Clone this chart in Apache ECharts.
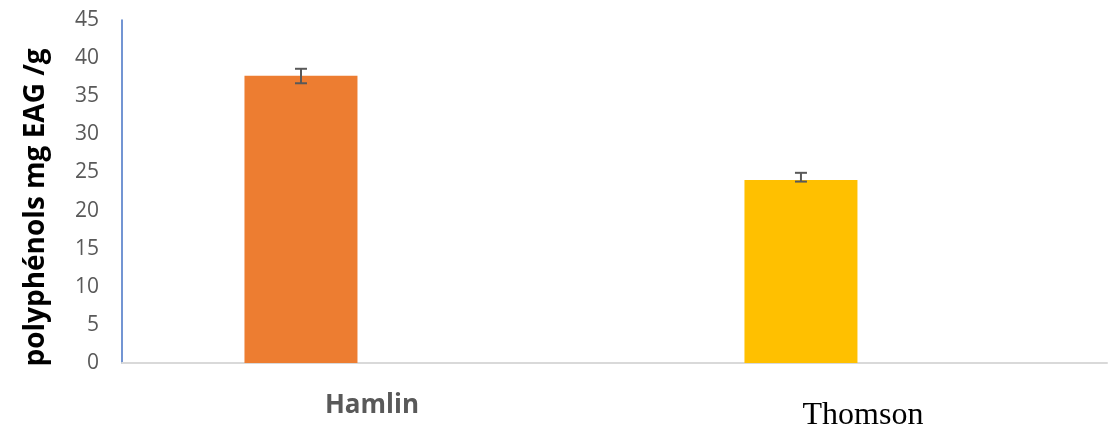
<!DOCTYPE html>
<html><head><meta charset="utf-8">
<script src="https://cdn.jsdelivr.net/npm/echarts@6/dist/echarts.min.js"></script>
<style>html,body{margin:0;padding:0;background:#fff}#c{width:1108px;height:425px}</style>
</head><body><div id="c"></div>
<script>
// ---- data ----
const categories = ['Hamlin', 'Thomson'];
const values = [37.7, 24.0];
const errLow = [36.7, 23.8];
const errHigh = [38.6, 24.95];
const yTickMin = 0, yTickMax = 45, yTickStep = 5;
const yTitle = 'polyphénols mg EAG /g';

// ---- layout (fractions of plot width) ----
const barPos = [0.1817, 0.6893];
const labelPos = [0.2538, 0.7523];
const barColors = ['#ED7D31', '#FFC000'];

const chart = echarts.init(document.getElementById('c'), null, {renderer: 'canvas'});
const option = {
  animation: false,
  grid: {left: 122, right: 1, top: 20, bottom: 62, containLabel: false, outerBoundsMode: 'none'},
  xAxis: {
    type: 'value', min: 0, max: 1,
    splitLine: {show: false},
    axisTick: {show: false},
    axisLine: {show: true, lineStyle: {color: '#D9D9D9', width: 2}},
    axisLabel: {
      customValues: labelPos,
      margin: 28,
      formatter: function (v) {
        let idx = 0, best = Infinity;
        labelPos.forEach((p, i) => { const d = Math.abs(p - v); if (d < best) { best = d; idx = i; } });
        return '{c' + idx + '|' + categories[idx] + '}';
      },
      rich: {
        c0: {fontFamily: 'Open Sans', fontWeight: 'bold', fontSize: 26, lineHeight: 30, color: '#595959'},
        c1: {fontFamily: 'Liberation Serif', fontSize: 32, lineHeight: 36, color: '#000000', padding: [13, 0, 0, 0]}
      }
    }
  },
  yAxis: {
    type: 'value', min: yTickMin, max: yTickMax, interval: yTickStep,
    name: yTitle, nameLocation: 'middle', nameGap: 72, nameRotate: 90,
    nameTextStyle: {fontFamily: 'Open Sans', fontWeight: 'bold', fontSize: 28, color: '#000000', padding: [0, 32, 0, 0]},
    splitLine: {show: false},
    axisTick: {show: false},
    axisLine: {show: true, lineStyle: {color: '#4472C4', width: 1.5}},
    axisLabel: {fontFamily: 'Open Sans', fontSize: 21, color: '#595959', margin: 23}
  },
  series: [
    {
      type: 'bar',
      barWidth: 113,
      data: values.map((v, i) => ({value: [barPos[i], v], itemStyle: {color: barColors[i]}}))
    },
    {
      type: 'custom',
      z: 10,
      encode: {x: 0, y: [1, 2]},
      data: values.map((v, i) => [barPos[i], errLow[i], errHigh[i]]),
      renderItem: function (params, api) {
        const lo = api.coord([api.value(0), api.value(1)]);
        const hi = api.coord([api.value(0), api.value(2)]);
        const w = 6;
        const st = {stroke: '#595959', lineWidth: 2};
        return {
          type: 'group',
          children: [
            {type: 'line', shape: {x1: hi[0], y1: hi[1], x2: lo[0], y2: lo[1]}, style: st},
            {type: 'line', shape: {x1: hi[0] - w, y1: hi[1], x2: hi[0] + w, y2: hi[1]}, style: st},
            {type: 'line', shape: {x1: lo[0] - w, y1: lo[1], x2: lo[0] + w, y2: lo[1]}, style: st}
          ]
        };
      }
    }
  ]
};
chart.setOption(option);
</script>
</body></html>
